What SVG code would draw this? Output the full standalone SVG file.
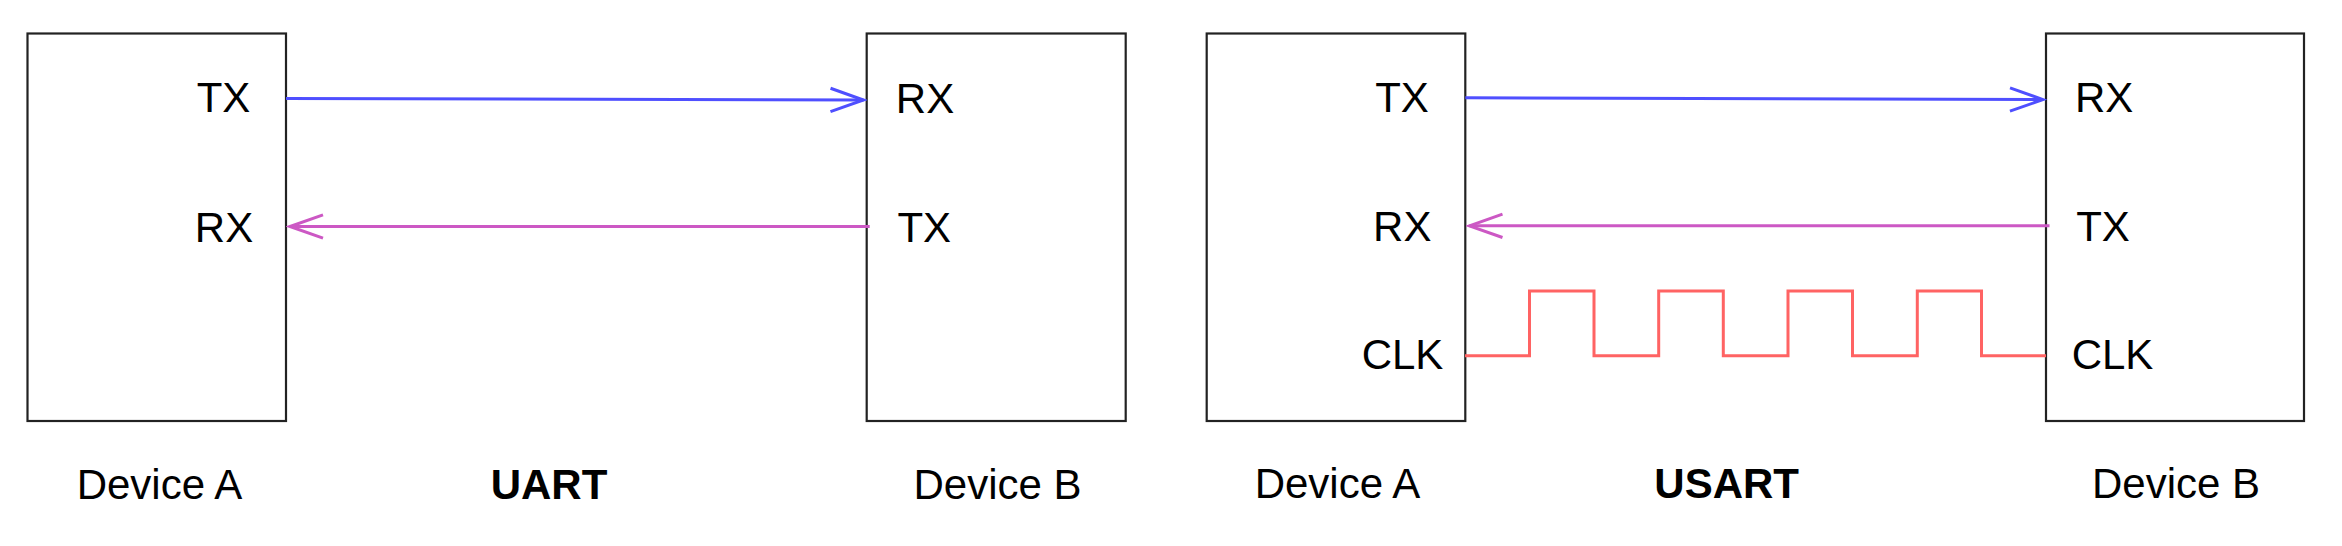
<svg xmlns="http://www.w3.org/2000/svg" width="2342" height="546" viewBox="0 0 2342 546">
<style>
.box{fill:#ffffff;stroke:#222222;stroke-width:2.2}
.lbl{font-family:"Liberation Sans",Arial,Helvetica,sans-serif;font-size:42px;fill:#000000;text-anchor:middle}
.title{font-weight:bold}
.tx{fill:none;stroke:#4f4fff;stroke-width:3}
.rx{fill:none;stroke:#cc58c4;stroke-width:3}
.clk{fill:none;stroke:#ff6363;stroke-width:3;stroke-linejoin:miter}
</style>
<defs>
<marker id="ab" markerUnits="userSpaceOnUse" orient="auto" viewBox="-36 -15 40 30" refX="0" refY="0" markerWidth="40" markerHeight="30">
<path d="M-33,-11.7 L0,0 L-33,11.7" fill="none" stroke="#4f4fff" stroke-width="3"/>
</marker>
<marker id="ap" markerUnits="userSpaceOnUse" orient="auto" viewBox="-36 -15 40 30" refX="0" refY="0" markerWidth="40" markerHeight="30">
<path d="M-33,-11.7 L0,0 L-33,11.7" fill="none" stroke="#cc58c4" stroke-width="3"/>
</marker>
</defs>
<rect width="2342" height="546" fill="#ffffff"/>

<g id="uart-device-a">
<rect class="box" x="27.5" y="33.5" width="258.5" height="387.5"/>
<text class="lbl" x="223.5" y="112">TX</text>
<text class="lbl" x="224" y="241.5">RX</text>
<text class="lbl" x="159.5" y="499">Device A</text>
</g>
<g id="uart-device-b">
<rect class="box" x="866.7" y="33.5" width="259" height="387.5"/>
<text class="lbl" x="925" y="113">RX</text>
<text class="lbl" x="924.3" y="242">TX</text>
<text class="lbl" x="997.5" y="498.5">Device B</text>
</g>
<g id="uart-title">
<text class="lbl title" x="549" y="499">UART</text>
</g>

<g id="usart-device-a">
<rect class="box" x="1206.7" y="33.5" width="258.6" height="387.5"/>
<text class="lbl" x="1402" y="111.5">TX</text>
<text class="lbl" x="1402.3" y="240.5">RX</text>
<text class="lbl" x="1402.5" y="369">CLK</text>
<text class="lbl" x="1337.5" y="498">Device A</text>
</g>
<g id="usart-device-b">
<rect class="box" x="2046" y="33.5" width="258" height="387.5"/>
<text class="lbl" x="2104.2" y="112.3">RX</text>
<text class="lbl" x="2103" y="241">TX</text>
<text class="lbl" x="2112.5" y="369.3">CLK</text>
<text class="lbl" x="2176" y="498">Device B</text>
</g>
<g id="usart-title">
<text class="lbl title" x="1726.7" y="498">USART</text>
</g>

<g id="connectors">
<line class="tx" x1="286" y1="98.5" x2="863.5" y2="100" marker-end="url(#ab)"/>
<line class="rx" x1="869.7" y1="226.5" x2="290" y2="226.5" marker-end="url(#ap)"/>
<line class="tx" x1="1465.3" y1="97.8" x2="2043" y2="99.6" marker-end="url(#ab)"/>
<line class="rx" x1="2049.5" y1="225.8" x2="1469.5" y2="225.8" marker-end="url(#ap)"/>
<path class="clk" d="M1465,355.7 H1529.5 V291 H1594 V355.7 H1658.7 V291 H1723.3 V355.7 H1788 V291 H1852.5 V355.7 H1917.3 V291 H1981.5 V355.7 H2046"/>
</g>
</svg>
